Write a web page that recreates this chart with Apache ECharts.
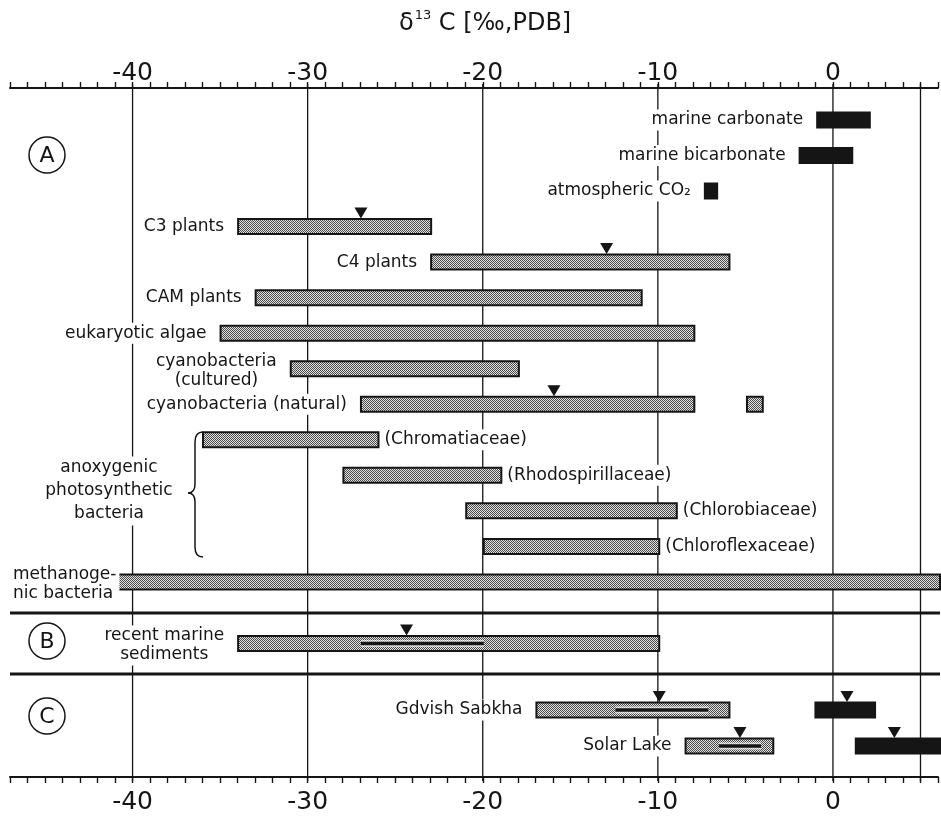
<!DOCTYPE html>
<html>
<head>
<meta charset="utf-8">
<script src="https://cdn.jsdelivr.net/npm/echarts@6/dist/echarts.min.js"></script>
<style>
  html, body { margin: 0; padding: 0; background: #fff; }
  #chart { width: 941px; height: 821px; }
</style>
</head>
<body>
<div id="chart"></div>
<script>
// ---- data (delta 13C ranges, per mil PDB) ----
// A: organisms and inorganic carbon
var rowsA = ['marine carbonate', 'marine bicarbonate', 'atmospheric CO₂', 'C3 plants', 'C4 plants',
  'CAM plants', 'eukaryotic algae', 'cyanobacteria\n(cultured)', 'cyanobacteria (natural)',
  '(Chromatiaceae)', '(Rhodospirillaceae)', '(Chlorobiaceae)', '(Chloroflexaceae)', 'methanoge-\nnic bacteria'];
var lowA  = [-1, -2, -7.4, -34, -23, -33, -35, -31, -27, -36, -28, -21, -20, -41];
var highA = [2, 1, -6.7, -23, -6, -11, -8, -18, -8, -26, -19, -9, -10, 6];
var solidA = ['marine carbonate', 'marine bicarbonate', 'atmospheric CO₂'];
var extraA = [['cyanobacteria (natural)', -5, -4.1]];
var peaksA = [['C3 plants', -27], ['C4 plants', -13], ['cyanobacteria (natural)', -16]];
var rightLabelled = ['(Chromatiaceae)', '(Rhodospirillaceae)', '(Chlorobiaceae)', '(Chloroflexaceae)'];

// B: recent marine sediments
var rowsB = ['recent marine\nsediments'];
var lowB = [-34];
var highB = [-10];
var innerLowB = [-27];
var innerHighB = [-20];
var peaksB = [-24.4];

// C: microbial mats (organic carbon, then carbonate)
var rowsC = ['Gdvish Sabkha', 'Solar Lake'];
var orgLowC = [-17, -8.5];
var orgHighC = [-6, -3.5];
var innerLowC = [-12.5, -6.6];
var innerHighC = [-7.2, -4.2];
var orgPeaksC = [-10, -5.4];
var carbLowC = [-1.1, 1.2];
var carbHighC = [2.3, 6];
var carbPeaksC = [0.7, 3.4];

var xMin = -47, xMax = 6;
var gridValues = [-40, -30, -20, -10, 0, 5];
var tickLabels = [-40, -30, -20, -10, 0];

// ---- drawing ----
var chart = echarts.init(document.getElementById('chart'));
var ink = '#151515';
var labelFont = '17px "DejaVu Sans"';

// stipple fill like the printed screen
var dots = document.createElement('canvas');
dots.width = 2; dots.height = 2;
var dc = dots.getContext('2d');
dc.fillStyle = '#e2e2e2'; dc.fillRect(0, 0, 2, 2);
dc.fillStyle = '#4a4a4a'; dc.fillRect(0, 0, 1, 1); dc.fillRect(1, 1, 1, 1);
var stipple = { type: 'pattern', image: dots, repeat: 'repeat' };

var measureCtx = document.createElement('canvas').getContext('2d');
function textWidth(s) {
  measureCtx.font = labelFont;
  return Math.max.apply(null, s.split('\n').map(function (l) { return measureCtx.measureText(l).width; }));
}

// axis indices of the three panels
var panels = [{ x: 2, y: 1 }, { x: 3, y: 2 }, { x: 4, y: 3 }];

function barSeries(p, items, kind) {
  return {
    type: 'custom', xAxisIndex: p.x, yAxisIndex: p.y, z: kind === 'inner' ? 4 : 3,
    silent: true, animation: false,
    encode: { x: [0, 1], y: 2 },
    data: items,
    renderItem: function (params, api) {
      var a = api.coord([api.value(0), api.value(2)]);
      var b = api.coord([api.value(1), api.value(2)]);
      if (kind === 'inner') {
        return { type: 'group', children: [
          { type: 'rect', shape: { x: a[0], y: a[1] - 3.5, width: b[0] - a[0], height: 7 }, style: { fill: '#fff', opacity: 0.6 } },
          { type: 'rect', shape: { x: a[0], y: a[1] - 1.7, width: b[0] - a[0], height: 3.4 }, style: { fill: ink } }
        ] };
      }
      var h = 15;
      return {
        type: 'rect',
        shape: { x: a[0], y: a[1] - h / 2, width: b[0] - a[0], height: h },
        style: { fill: kind === 'solid' ? ink : stipple, stroke: ink, lineWidth: 2 }
      };
    }
  };
}

function peakSeries(p, items) {
  return {
    type: 'custom', xAxisIndex: p.x, yAxisIndex: p.y, z: 5, silent: true, animation: false,
    data: items,
    renderItem: function (params, api) {
      var c = api.coord([api.value(0), api.value(1)]);
      var top = c[1] - 8;
      return { type: 'polygon', shape: { points: [[c[0] - 6.5, top - 11], [c[0] + 6.5, top - 11], [c[0], top]] }, style: { fill: ink } };
    }
  };
}

function labelSeries(p, names, low, high) {
  return {
    type: 'custom', xAxisIndex: p.x, yAxisIndex: p.y, z: 4, silent: true, animation: false,
    data: names.map(function (n, i) { return [low[i], high[i], i]; }),
    renderItem: function (params, api) {
      var idx = api.value(2);
      var name = names[idx];
      var w = textWidth(name);
      var right = rightLabelled.indexOf(name) >= 0;
      var x, align = 'center';
      if (right) {
        x = api.coord([api.value(1), idx])[0] + 6 + w / 2;
      } else {
        x = api.coord([api.value(0), idx])[0] - 14 - w / 2;
        if (x - w / 2 < 10) { x = 10; align = 'left'; }
      }
      var y = api.coord([api.value(0), idx])[1];
      return {
        type: 'text',
        style: {
          text: name, x: x, y: y + (name.indexOf('\n') >= 0 ? 2 : 0), align: align, verticalAlign: 'middle',
          font: labelFont, fill: ink, lineHeight: 19, backgroundColor: '#fff', padding: [1, 3]
        }
      };
    }
  };
}

// thick rules above and below panel B
var rulesB = {
  type: 'custom', xAxisIndex: panels[1].x, yAxisIndex: panels[1].y, z: 2, silent: true, animation: false,
  data: [[xMin, 0]],
  renderItem: function (params, api) {
    var cs = params.coordSys;
    var st = { stroke: ink, lineWidth: 3 };
    return { type: 'group', children: [
      { type: 'line', shape: { x1: cs.x, y1: cs.y, x2: cs.x + cs.width, y2: cs.y }, style: st },
      { type: 'line', shape: { x1: cs.x, y1: cs.y + cs.height, x2: cs.x + cs.width, y2: cs.y + cs.height }, style: st }
    ] };
  }
};

var dataA = [], solidItemsA = [];
rowsA.forEach(function (n, i) {
  (solidA.indexOf(n) >= 0 ? solidItemsA : dataA).push([lowA[i], highA[i], i]);
});
extraA.forEach(function (e) { dataA.push([e[1], e[2], rowsA.indexOf(e[0])]); });

var hiddenX = { type: 'value', min: xMin, max: xMax, show: false };
var frameX = function (pos) {
  return {
    type: 'value', gridIndex: 0, position: pos, min: xMin, max: xMax, interval: 1,
    axisLine: { show: true, onZero: false, lineStyle: { color: ink, width: 2 } },
    axisTick: { show: true, length: 6, lineStyle: { color: ink, width: 1.4 } },
    splitLine: { show: false },
    axisLabel: {
      margin: pos === 'top' ? 2 : 13, fontFamily: 'DejaVu Sans', fontSize: 25, color: ink,
      showMinLabel: true, showMaxLabel: true,
      formatter: function (v) {
        v = Math.round(v);
        return tickLabels.indexOf(v) >= 0 ? (v < 0 ? '-' + Math.abs(v) : String(v)) : '';
      }
    }
  };
};

function centredText(text, x, y, font, extra) {
  return { type: 'text', z: 10, style: Object.assign({ text: text, x: x, y: y, align: 'center', verticalAlign: 'middle',
    textAlign: 'center', textVerticalAlign: 'middle', font: font, fill: ink }, extra || {}) };
}
function circle(cx, cy) {
  return { type: 'circle', z: 10, shape: { cx: cx, cy: cy, r: 18 }, style: { fill: '#fff', stroke: ink, lineWidth: 1.5 } };
}
var braceStyle = { fill: null, stroke: ink, lineWidth: 1.5 };

var option = {
  backgroundColor: '#fff',
  animation: false,
  title: {
    text: '{m|δ}{s|13}{m| C [‰,PDB]}',
    left: 394, top: 4,
    textStyle: {
      fontWeight: 'normal',
      rich: {
        m: { fontFamily: 'DejaVu Sans', fontSize: 24, fontWeight: 'normal', color: ink, lineHeight: 30 },
        s: { fontFamily: 'DejaVu Sans', fontSize: 13, fontWeight: 'normal', color: ink, verticalAlign: 'top', padding: [0, 0, 10, 1] }
      }
    }
  },
  grid: [
    { left: 10, right: 1, top: 88, bottom: 44 },
    { left: 10, right: 1, top: 613, height: 61 },
    { left: 10, right: 1, top: 102.2, height: 497.5 },
    { left: 10, right: 1, top: 692, height: 72 }
  ],
  xAxis: [
    frameX('top'),
    frameX('bottom'),
    Object.assign({ gridIndex: 2 }, hiddenX),
    Object.assign({ gridIndex: 1 }, hiddenX),
    Object.assign({ gridIndex: 3 }, hiddenX)
  ],
  yAxis: [
    { type: 'value', gridIndex: 0, min: 0, max: 1, show: false },
    { type: 'category', gridIndex: 2, data: rowsA, inverse: true, show: false },
    { type: 'category', gridIndex: 1, data: rowsB, inverse: true, show: false },
    { type: 'category', gridIndex: 3, data: rowsC, inverse: true, show: false }
  ],
  graphic: [
    circle(47, 155), centredText('A', 47, 156, '22px "DejaVu Sans"'),
    circle(47, 641), centredText('B', 47, 642, '22px "DejaVu Sans"'),
    circle(47, 716), centredText('C', 47, 717, '22px "DejaVu Sans"'),
    { type: 'bezierCurve', z: 10, shape: { x1: 203, y1: 432, cpx1: 195, cpy1: 432, x2: 195, y2: 442 }, style: braceStyle },
    { type: 'line', z: 10, shape: { x1: 195, y1: 442, x2: 195, y2: 484 }, style: braceStyle },
    { type: 'bezierCurve', z: 10, shape: { x1: 195, y1: 484, cpx1: 195, cpy1: 493, x2: 188, y2: 493 }, style: braceStyle },
    { type: 'bezierCurve', z: 10, shape: { x1: 188, y1: 493, cpx1: 195, cpy1: 493, x2: 195, y2: 502 }, style: braceStyle },
    { type: 'line', z: 10, shape: { x1: 195, y1: 502, x2: 195, y2: 547 }, style: braceStyle },
    { type: 'bezierCurve', z: 10, shape: { x1: 195, y1: 547, cpx1: 195, cpy1: 557, x2: 203, y2: 557 }, style: braceStyle },
    centredText('anoxygenic\nphotosynthetic\nbacteria', 109, 491, labelFont, { lineHeight: 23, backgroundColor: '#fff', padding: [0, 3] })
  ],
  series: [
    {
      type: 'custom', xAxisIndex: 0, yAxisIndex: 0, z: 1, silent: true, animation: false,
      data: gridValues.map(function (v) { return [v, 0.5]; }),
      renderItem: function (params, api) {
        var x = api.coord([api.value(0), 0.5])[0];
        var cs = params.coordSys;
        return { type: 'line', shape: { x1: x, y1: cs.y - 4, x2: x, y2: cs.y + cs.height + 4 }, style: { stroke: ink, lineWidth: 1.3 } };
      }
    },
    rulesB,
    barSeries(panels[0], dataA, 'stipple'),
    barSeries(panels[0], solidItemsA, 'solid'),
    peakSeries(panels[0], peaksA.map(function (p) { return [p[1], rowsA.indexOf(p[0])]; })),
    labelSeries(panels[0], rowsA, lowA, highA),

    barSeries(panels[1], lowB.map(function (v, i) { return [v, highB[i], i]; }), 'stipple'),
    barSeries(panels[1], innerLowB.map(function (v, i) { return [v, innerHighB[i], i]; }), 'inner'),
    peakSeries(panels[1], peaksB.map(function (v, i) { return [v, i]; })),
    labelSeries(panels[1], rowsB, lowB, highB),

    barSeries(panels[2], orgLowC.map(function (v, i) { return [v, orgHighC[i], i]; }), 'stipple'),
    barSeries(panels[2], innerLowC.map(function (v, i) { return [v, innerHighC[i], i]; }), 'inner'),
    barSeries(panels[2], carbLowC.map(function (v, i) { return [v, carbHighC[i], i]; }), 'solid'),
    peakSeries(panels[2], orgPeaksC.map(function (v, i) { return [v, i]; }).concat(carbPeaksC.map(function (v, i) { return [v, i]; }))),
    labelSeries(panels[2], rowsC, orgLowC, orgHighC)
  ]
};

chart.setOption(option);
</script>
</body>
</html>
